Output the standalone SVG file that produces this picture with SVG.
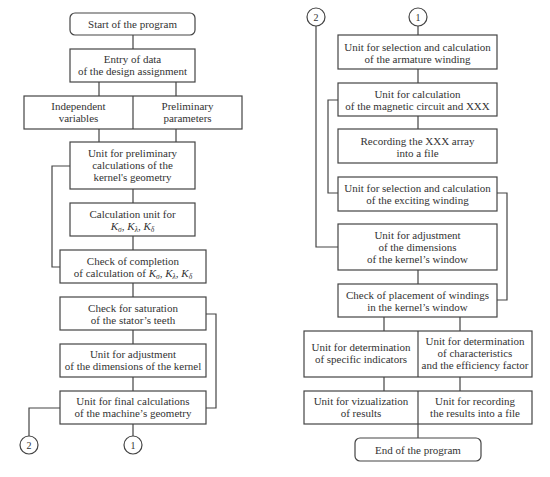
<svg xmlns="http://www.w3.org/2000/svg" width="550" height="477" viewBox="0 0 550 477">
<style>
.b{fill:#fff;stroke:#444;stroke-width:1.2}
.c{fill:none;stroke:#444;stroke-width:1.2}
text{font-family:"Liberation Serif","Times New Roman",serif;font-size:11px;fill:#333;text-anchor:middle}
.k{font-style:italic}
.s{font-size:7.5px;font-style:italic}
.n{font-size:10px}
</style>
<rect width="550" height="477" fill="#fff"/>
<g id="connectors" class="c">
<path d="M133 35V49M99 82V96M176 82V96M99 129V142M176 129V142M133 189V203M133 236V250M133 283V297M133 330V344M133 377V391M133 424V436"/>
<path d="M70 166H52V267H60"/>
<path d="M206 314H216V408H206"/>
<path d="M60 408H29V436"/>
<path d="M418 26V35M418 69V83M418 116V129M418 270V284M384 317V331M460 317V331M384 377V391M460 377V391M418 424V438"/>
<path d="M338 100H328V193H338"/>
<path d="M316 26V247H338"/>
<path d="M497 193H507V300H497"/>
</g>
<g id="start"><rect class="b" x="70" y="13" width="125" height="22" rx="5"/><text x="132.5" y="28">Start of the program</text></g>
<g id="entry"><rect class="b" x="70" y="49" width="125" height="33"/><text x="132.5" y="63">Entry of data</text><text x="132.5" y="75">of the design assignment</text></g>
<g id="inputs"><rect class="b" x="24" y="96" width="218" height="33"/><path class="c" d="M133 96V129"/>
<text x="78.5" y="110">Independent</text><text x="78.5" y="122">variables</text>
<text x="187.5" y="110">Preliminary</text><text x="187.5" y="122">parameters</text></g>
<g id="prelim"><rect class="b" x="70" y="142" width="125" height="47"/><text x="132.5" y="157">Unit for preliminary</text><text x="132.5" y="169">calculations of the</text><text x="132.5" y="181">kernel's geometry</text></g>
<g id="calcunit"><rect class="b" x="70" y="203" width="125" height="33"/><text x="132.5" y="218">Calculation unit for</text>
<text x="132.5" y="230"><tspan class="k">K</tspan><tspan class="s" dy="2">σ</tspan><tspan dy="-2">, </tspan><tspan class="k">K</tspan><tspan class="s" dy="2">λ</tspan><tspan dy="-2">, </tspan><tspan class="k">K</tspan><tspan class="s" dy="2">δ</tspan></text></g>
<g id="checkcompl"><rect class="b" x="60" y="250" width="146" height="33"/><text x="133" y="265">Check of completion</text>
<text x="133" y="277">of calculation of <tspan class="k">K</tspan><tspan class="s" dy="2">σ</tspan><tspan dy="-2">, </tspan><tspan class="k">K</tspan><tspan class="s" dy="2">λ</tspan><tspan dy="-2">, </tspan><tspan class="k">K</tspan><tspan class="s" dy="2">δ</tspan></text></g>
<g id="saturation"><rect class="b" x="60" y="297" width="146" height="33"/><text x="133" y="312">Check for saturation</text><text x="133" y="324">of the stator’s teeth</text></g>
<g id="adjkernel"><rect class="b" x="60" y="344" width="146" height="33"/><text x="133" y="358">Unit for adjustment</text><text x="133" y="370">of the dimensions of the kernel</text></g>
<g id="final"><rect class="b" x="60" y="391" width="146" height="33"/><text x="133" y="405">Unit for final calculations</text><text x="133" y="417">of the machine’s geometry</text></g>
<g id="c2a"><circle class="b" cx="29" cy="445" r="9"/><text class="n" x="29" y="448.5">2</text></g>
<g id="c1a"><circle class="b" cx="133" cy="445" r="9"/><text class="n" x="133" y="448.5">1</text></g>
<g id="c2b"><circle class="b" cx="316" cy="17" r="9"/><text class="n" x="316" y="20.5">2</text></g>
<g id="c1b"><circle class="b" cx="418" cy="17" r="9"/><text class="n" x="418" y="20.5">1</text></g>
<g id="armature"><rect class="b" x="338" y="35" width="159" height="34"/><text x="417.5" y="51">Unit for selection and calculation</text><text x="417.5" y="63">of the armature winding</text></g>
<g id="magnetic"><rect class="b" x="338" y="83" width="159" height="33"/><text x="417.5" y="98">Unit for calculation</text><text x="417.5" y="110">of the magnetic circuit and XXX</text></g>
<g id="recording"><rect class="b" x="338" y="129" width="159" height="34"/><text x="417.5" y="145">Recording the XXX array</text><text x="417.5" y="157">into a file</text></g>
<g id="exciting"><rect class="b" x="338" y="177" width="159" height="34"/><text x="417.5" y="192">Unit for selection and calculation</text><text x="417.5" y="204">of the exciting winding</text></g>
<g id="adjwindow"><rect class="b" x="338" y="224" width="159" height="46"/><text x="417.5" y="239">Unit for adjustment</text><text x="417.5" y="251">of the dimensions</text><text x="417.5" y="263">of the kernel’s window</text></g>
<g id="placement"><rect class="b" x="338" y="284" width="159" height="33"/><text x="417.5" y="299">Check of placement of windings</text><text x="417.5" y="311">in the kernel’s window</text></g>
<g id="indicators"><rect class="b" x="304" y="331" width="228" height="46"/><path class="c" d="M418 331V377"/>
<text x="361" y="351">Unit for determination</text><text x="361" y="363">of specific indicators</text>
<text x="475" y="345">Unit for determination</text><text x="475" y="357">of characteristics</text><text x="475" y="369">and the efficiency factor</text></g>
<g id="outputs"><rect class="b" x="304" y="391" width="228" height="33"/><path class="c" d="M418 391V424"/>
<text x="361" y="405">Unit for vizualization</text><text x="361" y="417">of results</text>
<text x="475" y="405">Unit for recording</text><text x="475" y="417">the results into a file</text></g>
<g id="end"><rect class="b" x="355" y="438" width="126" height="23" rx="5"/><text x="418" y="453.5">End of the program</text></g>
</svg>
